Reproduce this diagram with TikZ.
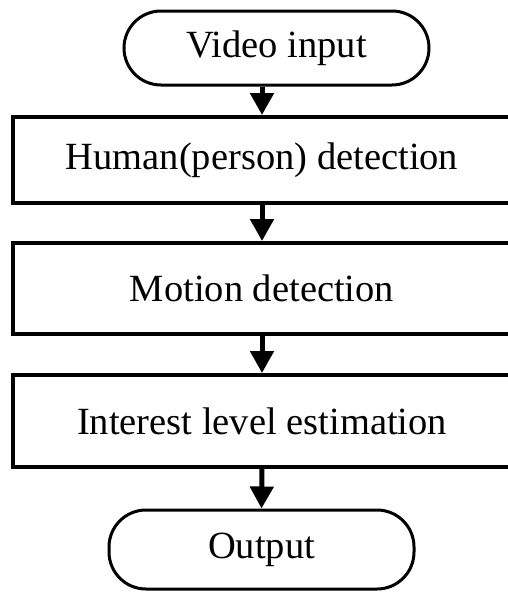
\documentclass[tikz,border=0pt]{standalone}
\usepackage{fontspec}
\setmainfont{Liberation Serif}
\usetikzlibrary{arrows.meta}
\begin{document}
\begin{tikzpicture}[x=1pt,y=-1pt,
  term/.style={draw=black, line width=3pt, rounded corners=37pt, inner sep=0pt, font=\fontsize{38.5}{42}\selectfont},
  stepbox/.style={draw=black, line width=4pt, inner sep=0pt, font=\fontsize{38.5}{42}\selectfont},
  flow/.style={line width=5pt, -{Triangle[length=22pt,width=23pt]}}]
\useasboundingbox (0,0) rectangle (507,592);
\node[term, minimum width=305pt, minimum height=74pt] (in) at (276.5,48) {Video input};
\node[stepbox, minimum width=498pt, minimum height=86pt] (s1) at (262,160) {Human(person) detection};
\node[stepbox, minimum width=498pt, minimum height=91pt] (s2) at (262,288.5) {Motion detection};
\node[stepbox, minimum width=498pt, minimum height=92pt] (s3) at (262,421) {Interest level estimation};
\node[term, minimum width=305pt, minimum height=79pt] (out) at (261.5,549.5) {Output};
\draw[flow] (in.south -| s1.north) -- (s1.north);
\draw[flow] (s1.south) -- (s2.north);
\draw[flow] (s2.south) -- (s3.north);
\draw[flow] (s3.south) -- (out.north);
\end{tikzpicture}
\end{document}
